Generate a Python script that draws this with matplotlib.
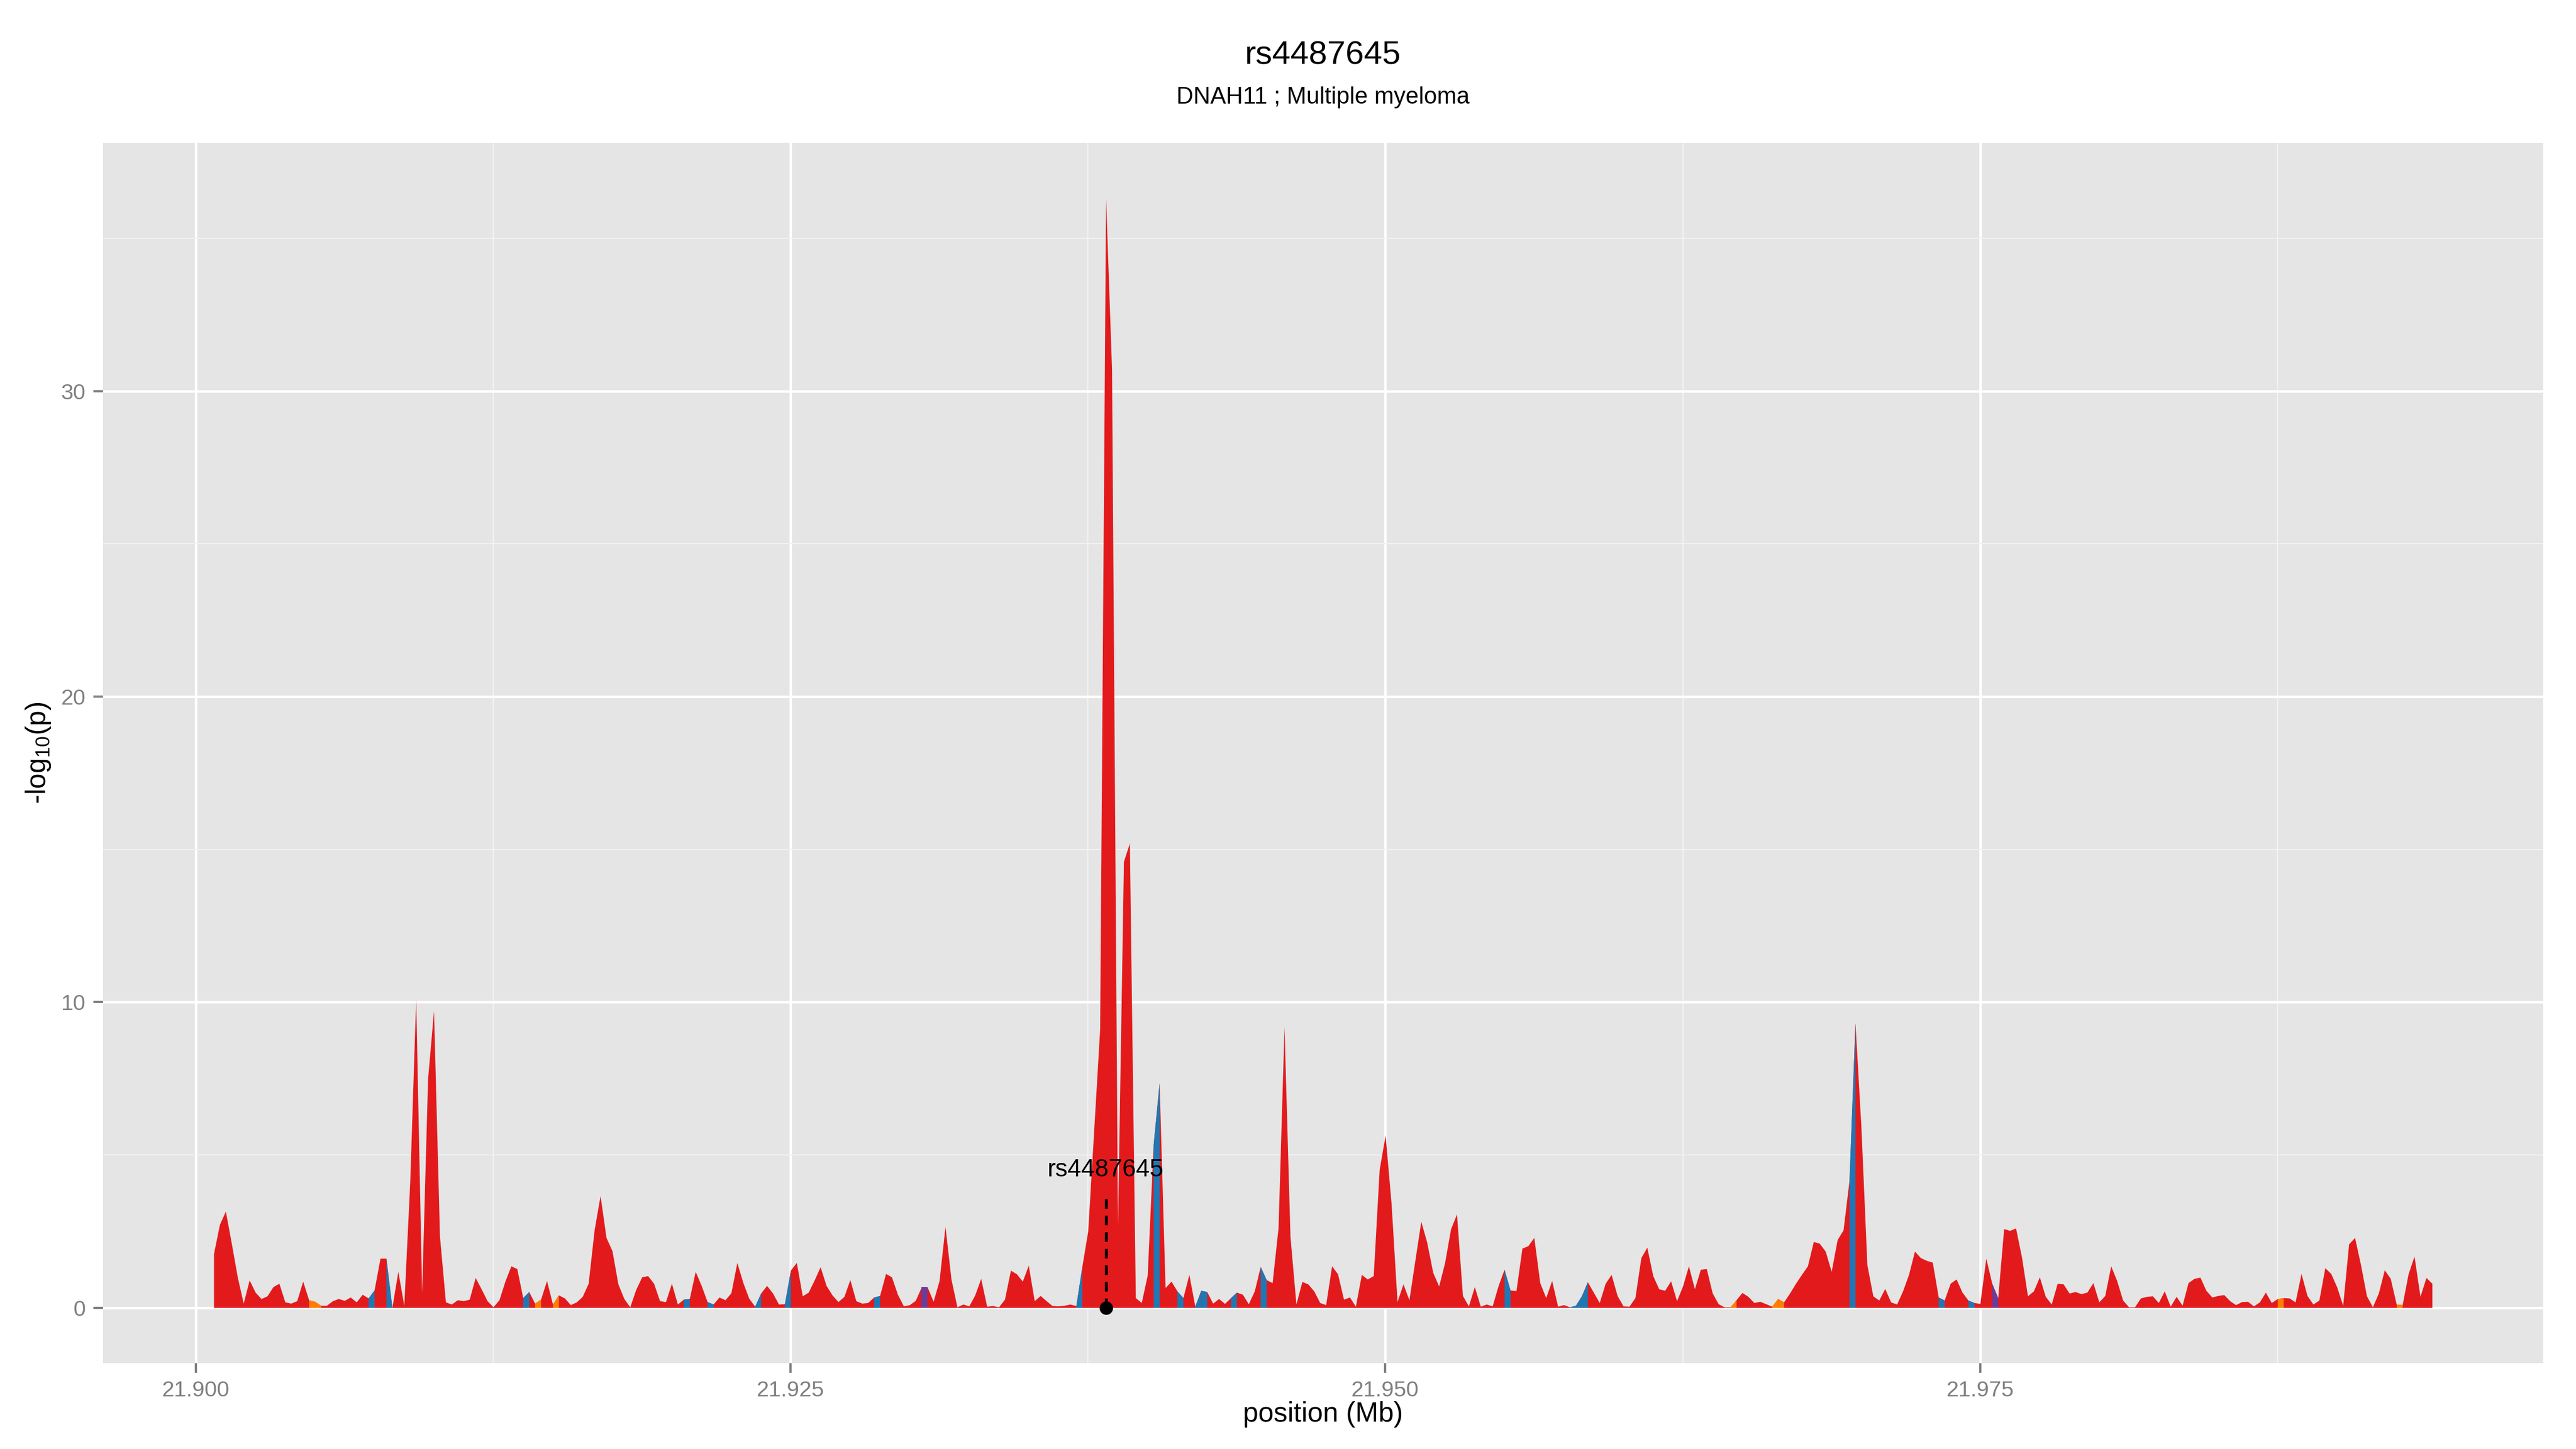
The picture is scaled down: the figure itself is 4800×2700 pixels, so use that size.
import numpy as np
import matplotlib
matplotlib.use("Agg")
import matplotlib.pyplot as plt

plt.rcParams["font.family"] = ["Liberation Sans", "DejaVu Sans"]
plt.rcParams["mathtext.fontset"] = "custom"
plt.rcParams["mathtext.rm"] = "Liberation Sans"

# -log10(p) for each SNP on a regular 250 bp grid
logp = [
    1.76, 2.72, 3.15, 2.10, 1.00, 0.14, 0.90, 0.50, 0.29, 0.38,
    0.68, 0.79, 0.18, 0.14, 0.22, 0.86, 0.25, 0.20, 0.07, 0.07,
    0.22, 0.29, 0.23, 0.34, 0.18, 0.43, 0.31, 0.57, 1.61, 1.61,
    0.00, 1.18, 0.07, 4.10, 10.10, 0.50, 7.49, 9.71, 2.33, 0.18,
    0.11, 0.25, 0.22, 0.27, 0.98, 0.61, 0.22, 0.02, 0.25, 0.86,
    1.36, 1.27, 0.32, 0.52, 0.14, 0.27, 0.88, 0.11, 0.41, 0.31,
    0.09, 0.18, 0.36, 0.79, 2.54, 3.66, 2.29, 1.86, 0.77, 0.29,
    0.02, 0.59, 1.00, 1.04, 0.79, 0.22, 0.19, 0.79, 0.11, 0.27,
    0.29, 1.18, 0.72, 0.19, 0.11, 0.34, 0.25, 0.48, 1.47, 0.82,
    0.30, 0.04, 0.47, 0.72, 0.47, 0.11, 0.12, 1.22, 1.47, 0.38,
    0.50, 0.90, 1.33, 0.72, 0.41, 0.19, 0.36, 0.91, 0.22, 0.14,
    0.16, 0.34, 0.39, 1.11, 1.00, 0.43, 0.05, 0.09, 0.23, 0.67,
    0.67, 0.20, 0.88, 2.65, 0.93, 0.02, 0.11, 0.05, 0.41, 0.95,
    0.04, 0.06, 0.02, 0.27, 1.22, 1.10, 0.86, 1.38, 0.22, 0.39,
    0.22, 0.06, 0.05, 0.07, 0.11, 0.06, 1.33, 2.51, 5.80, 9.10,
    36.30, 30.70, 2.70, 14.60, 15.20, 0.32, 0.16, 1.06, 5.34, 7.35,
    0.65, 0.86, 0.54, 0.32, 1.08, 0.04, 0.56, 0.52, 0.14, 0.29,
    0.13, 0.32, 0.50, 0.43, 0.12, 0.54, 1.34, 0.91, 0.81, 2.62,
    9.18, 2.33, 0.11, 0.85, 0.77, 0.54, 0.16, 0.09, 1.36, 1.10,
    0.27, 0.34, 0.04, 1.08, 0.93, 1.04, 4.52, 5.64, 3.41, 0.19,
    0.77, 0.25, 1.54, 2.82, 2.13, 1.15, 0.70, 1.47, 2.57, 3.06,
    0.39, 0.05, 0.68, 0.04, 0.11, 0.05, 0.72, 1.25, 0.57, 0.55,
    1.94, 2.02, 2.29, 0.81, 0.32, 0.88, 0.04, 0.09, 0.02, 0.07,
    0.38, 0.84, 0.50, 0.16, 0.79, 1.08, 0.39, 0.05, 0.04, 0.32,
    1.63, 1.97, 1.04, 0.61, 0.56, 0.87, 0.22, 0.70, 1.36, 0.61,
    1.25, 1.27, 0.47, 0.12, 0.02, 0.02, 0.25, 0.49, 0.36, 0.16,
    0.20, 0.12, 0.04, 0.29, 0.18, 0.47, 0.79, 1.08, 1.36, 2.16,
    2.10, 1.84, 1.18, 2.22, 2.54, 4.16, 9.32, 5.90, 1.40, 0.38,
    0.24, 0.62, 0.18, 0.11, 0.54, 1.08, 1.84, 1.63, 1.54, 1.48,
    0.34, 0.24, 0.79, 0.93, 0.50, 0.24, 0.16, 0.13, 1.61, 0.79,
    0.32, 2.58, 2.52, 2.60, 1.65, 0.38, 0.54, 1.00, 0.36, 0.11,
    0.79, 0.77, 0.47, 0.52, 0.45, 0.50, 0.81, 0.18, 0.39, 1.36,
    0.88, 0.24, 0.02, 0.02, 0.31, 0.36, 0.38, 0.16, 0.54, 0.04,
    0.36, 0.07, 0.81, 0.95, 0.99, 0.56, 0.34, 0.39, 0.42, 0.22,
    0.09, 0.19, 0.20, 0.05, 0.18, 0.50, 0.16, 0.29, 0.32, 0.31,
    0.18, 1.11, 0.39, 0.11, 0.24, 1.30, 1.11, 0.67, 0.07, 2.08,
    2.29, 1.40, 0.38, 0.02, 0.47, 1.23, 0.95, 0.11, 0.09, 1.10,
    1.68, 0.36, 0.98, 0.79,
]
first_bp = 21900750
step_bp = 250
pos_mb = (first_bp + step_bp * np.arange(len(logp))) / 1e6

# segments (start index) coloured by LD class, the rest are red
seg_blue = [26, 29, 52, 79, 83, 91, 96, 111, 145, 158, 162, 165, 166, 171, 176,
            217, 228, 229, 230, 275, 290, 295]
seg_orange = [16, 17, 54, 57, 255, 262, 263, 347, 367]
seg_purple = [119, 299]

lead_snp = "rs4487645"
lead_pos = 21.93825
gene_trait = "DNAH11 ; Multiple myeloma"

RED = "#E31A1C"
BLUE = "#1F78B4"
ORANGE = "#FF7F00"
PURPLE = "#6A3D9A"

fig = plt.figure(figsize=(16, 9), dpi=300)
ax = fig.add_axes([0.0399, 0.0593, 0.9473, 0.8420])
ax.set_facecolor("#E5E5E5")
for s in ax.spines.values():
    s.set_visible(False)

logp = np.array(logp)
ax.fill_between(pos_mb, logp, 0, color=RED, lw=0, zorder=2)
for idxs, col in [(seg_blue, BLUE), (seg_orange, ORANGE), (seg_purple, PURPLE)]:
    for i in idxs:
        ax.fill_between(pos_mb[i:i + 2], logp[i:i + 2], 0, color=col, lw=0, zorder=3)

# lead SNP marker
ax.plot([lead_pos, lead_pos], [0, 3.66], color="black", lw=1.3,
        ls=(0, (3.3, 2.4)), zorder=4)
ax.plot([lead_pos], [0], "o", color="black", ms=5, zorder=5)
ax.text(lead_pos, 4.5, lead_snp, ha="center", va="center", fontsize=11, zorder=5)

xr = pos_mb.max() - pos_mb.min()
ax.set_xlim(pos_mb.min() - 0.05 * xr, pos_mb.max() + 0.05 * xr)
ax.set_ylim(-0.05 * logp.max(), 1.05 * logp.max())

ax.set_xticks([21.900, 21.925, 21.950, 21.975])
ax.set_xticklabels(["21.900", "21.925", "21.950", "21.975"])
ax.set_xticks([21.9125, 21.9375, 21.9625, 21.9875], minor=True)
ax.set_yticks([0, 10, 20, 30])
ax.set_yticks([5, 15, 25, 35], minor=True)

ax.grid(which="major", color="white", lw=1.1)
ax.grid(which="minor", color="#F2F2F2", lw=0.55)
ax.set_axisbelow(True)
ax.tick_params(which="major", length=4.3, width=1.0, color="#7F7F7F",
               labelcolor="#7F7F7F", labelsize=9.9, pad=3.3)
ax.tick_params(which="minor", length=0)

ax.set_xlabel("position (Mb)", fontsize=12.4, va="center")
ax.xaxis.set_label_coords(0.5, -0.0422)
ax.set_ylabel(r"-log$\mathregular{_{10}}$(p)", fontsize=12.4, va="center")
ax.yaxis.set_label_coords(-0.0263, 0.5)

fig.text(0.5136, 0.9559, lead_snp, ha="center", va="baseline", fontsize=14.8)
fig.text(0.5136, 0.9285, gene_trait, ha="center", va="baseline", fontsize=10.5)

fig.savefig("out.png", dpi=300, facecolor="white")
